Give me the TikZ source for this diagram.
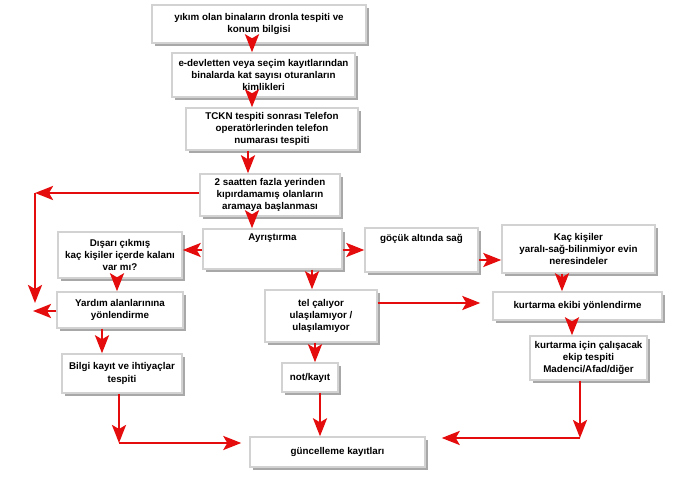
\documentclass[tikz,border=0pt]{standalone}
\usepackage{fontspec}
\setmainfont{Liberation Sans}
\usetikzlibrary{shadows,arrows.meta}
\definecolor{arrred}{RGB}{228,12,12}
\tikzset{
  box/.style={draw=gray!35, line width=1.4pt, fill=white, inner sep=0pt, align=center,
    font=\fontsize{9.8}{12.3}\selectfont\bfseries,
    drop shadow={shadow xshift=2.6pt, shadow yshift=-2.6pt, fill=gray!80, opacity=0.85}},
  arr/.style={draw=arrred, line width=2.6pt, -{Stealth[length=18pt,width=14pt,inset=4pt]}},
}
\begin{document}
\begin{tikzpicture}[x=1pt,y=-1pt]
\useasboundingbox (0,0) rectangle (680,502);
% boxes
\node[box, minimum width=214pt, minimum height=38pt] (b1) at (259,24) {yıkım olan binaların dronla tespiti ve\\konum bilgisi};
\node[box, minimum width=183pt, minimum height=44pt] (b2) at (263.5,75) {e-devletten veya seçim kayıtlarından\\binalarda kat sayısı oturanların\\kimlikleri};
\node[box, minimum width=172pt, minimum height=42pt] (b3) at (272,129) {TCKN tespiti sonrası Telefon\\operatörlerinden telefon\\numarası tespiti};
\node[box, minimum width=140pt, minimum height=42pt] (b4) at (270,195) {2 saatten fazla yerinden\\kıpırdamamış olanların\\aramaya başlanması};
\node[box, minimum width=139pt, minimum height=40pt] (ayr) at (272.5,249) {Ayrıştırma\\~\\~};
\node[box, minimum width=124pt, minimum height=46pt] (dis) at (120,255) {Dışarı çıkmış\\kaç kişiler içerde kalanı\\var mı?};
\node[box, minimum width=126pt, minimum height=36pt] (yar) at (120,310) {Yardım alanlarınına\\yönlendirme};
\node[box, minimum width=120pt, minimum height=39pt] (bil) at (122,373.5) {Bilgi kayıt ve ihtiyaçlar\\tespiti};
\node[box, minimum width=112pt, minimum height=52pt] (tel) at (321,316) {tel çalıyor\\ulaşılamıyor /\\ulaşılamıyor};
\node[box, minimum width=56pt, minimum height=29pt] (not) at (310,377.5) {not/kayıt};
\node[box, minimum width=175pt, minimum height=30pt] (guc) at (337.5,452) {güncelleme kayıtları};
\node[box, minimum width=113pt, minimum height=44pt] (gocuk) at (421.5,250) {göçük altında sağ\\~\\~};
\node[box, minimum width=153pt, minimum height=48pt] (kac) at (578.5,249) {Kaç kişiler\\yaralı-sağ-bilinmiyor evin\\neresindeler};
\node[box, minimum width=169pt, minimum height=28pt] (ke) at (577.5,306) {kurtarma ekibi yönlendirme};
\node[box, minimum width=117pt, minimum height=44pt] (ki) at (588.5,358) {kurtarma için çalışacak\\ekip tespiti\\Madenci/Afad/diğer};
% helper coordinates
\coordinate (x252) at (252,0);
\coordinate (x248) at (248,0);
\coordinate (x117) at (117,0);
\coordinate (x102) at (102,0);
\coordinate (x312) at (312,0);
\coordinate (x315) at (315,0);
\coordinate (x320) at (320,0);
\coordinate (x562) at (562,0);
\coordinate (x572) at (572,0);
\coordinate (x119) at (119,0);
\coordinate (x580) at (580,0);
\coordinate (y193) at (0,193);
\coordinate (y250) at (0,250);
\coordinate (y260) at (0,260);
\coordinate (y303) at (0,303);
\coordinate (y311) at (0,311);
\coordinate (y443) at (0,443);
\coordinate (y438) at (0,438);
\coordinate (cTL) at (35,193);
\coordinate (cBL) at (35,303);
\coordinate (cYL) at (33,311);
\coordinate (cBil) at (119,443);
\coordinate (cKi) at (580,438);
% connectors
\draw[arr] (b1.south -| x252) -- (b2.north -| x252);
\draw[arr] (b2.south -| x252) -- (b3.north -| x252);
\draw[arr] (b3.south -| x248) -- (b4.north -| x248);
\draw[arr] (b4.south -| x252) -- (ayr.north -| x252);
\draw[arr] (b4.west |- y193) -- (cTL);
\draw[arr] (cTL) -- (cBL);
\draw[arr] (yar.west |- y311) -- (cYL);
\draw[arr] (ayr.west |- y250) -- (dis.east |- y250);
\draw[arr] (dis.south -| x117) -- (yar.north -| x117);
\draw[arr] (yar.south -| x102) -- (bil.north -| x102);
\draw[arr] (ayr.east |- y250) -- (gocuk.west |- y250);
\draw[arr] (gocuk.east |- y260) -- (kac.west |- y260);
\draw[arr] (kac.south -| x562) -- (ke.north -| x562);
\draw[arr] (ayr.south -| x312) -- (tel.north -| x312);
\draw[arr, shorten >=12pt] (tel.east |- y303) -- (ke.west |- y303);
\draw[arr] (tel.south -| x315) -- (not.north -| x315);
\draw[arr] (ke.south -| x572) -- (ki.north -| x572);
\draw[arr] (not.south -| x320) -- (guc.north -| x320);
\draw[arr] (bil.south -| x119) -- (cBil);
\draw[arr, shorten >=8pt] (cBil) -- (guc.west |- y443);
\draw[arr] (ki.south -| x580) -- (cKi);
\draw[arr, shorten >=16pt] (cKi) -- (guc.east |- y438);
\end{tikzpicture}
\end{document}
